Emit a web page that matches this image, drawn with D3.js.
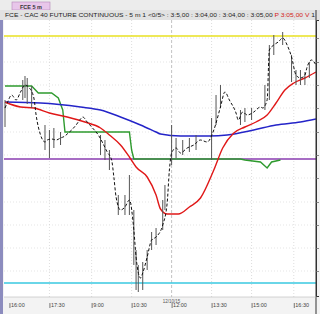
<!DOCTYPE html>
<html>
<head>
<meta charset="utf-8">
<script src="https://cdn.jsdelivr.net/npm/d3@7"></script>
<style>
  body { margin: 0; background: #fff; }
  svg { display: block; font-family: "Liberation Sans", Arial, sans-serif; }
</style>
</head>
<body>
<svg id="chart" width="320" height="314"></svg>
<script>
// bar index (5 min bars) and prices
const closeIdx = [0,1,3,5,7,9,11,13,14,16,18,19,21,23,25,27,28,30,32,34,35,37,39,42,44,46,48,49,50,52,54,56,58,59,61,62,64,66,68,71,73,74,75,77,79,82,85,88,91,94,97,99,101,104,105,107,109,112,115,116,118,119,121,123,125,127,129,131,133,135,136,138,140]
const closeVal = [4656,4658.5,4662.5,4660,4664,4667.5,4666,4661,4652.5,4642.5,4639,4640,4640.5,4640,4641,4642,4643,4645,4647.5,4650.5,4651.5,4649,4646.5,4642.5,4638.5,4634,4630,4621.5,4611.5,4605,4606.5,4610,4595,4581.5,4571,4573.5,4581.5,4590,4591.5,4597.5,4608.5,4625,4633.5,4636,4633.5,4636,4637.5,4640,4639,4645,4656.5,4664,4660,4653.5,4650,4654,4652.5,4654,4656.5,4656,4660,4685,4687.5,4689,4691,4687.5,4681.5,4672.5,4671,4672.5,4676.5,4680,4677.5]

const barIdx  = [0,8,9,10,12,18,20,22,25,43,45,47,51,54,56,58,59,60,62,64,66,68,71,72,75,77,80,83,86,93,95,97,106,108,111,117,119,121,125,129,131,133,135,137]
const barHigh = [4660,4670,4672,4671,4667,4647.5,4645,4646,4644,4642.5,4640,4635,4612.5,4612.5,4622.5,4605,4585,4577.5,4579,4585,4594,4596,4610,4617.5,4647.5,4641,4640,4641,4642.5,4651,4662.5,4667.5,4655,4656,4656,4667.5,4687.5,4692.5,4694,4682.5,4675,4675,4674,4679]
const barLow  = [4646.5,4660,4661,4658,4656,4635,4631,4636,4637.5,4632.5,4630,4625,4602.5,4602.5,4602.5,4577.5,4565,4564,4565,4575,4585,4587.5,4595,4605,4627.5,4631,4632.5,4634,4635,4630,4647.5,4656,4647.5,4649,4650,4655,4660,4682.5,4687.5,4669,4667.5,4667.5,4667.5,4671]

const redIdx = [0,7,13,20,28,36,43,47,52,56,59,64,68,70,73,78,83,88,94,98,103,108,113,118,122,126,130,135,140]
const redVal = [4659,4656.5,4656,4653.5,4651.5,4649,4646,4642.5,4637.5,4631.5,4626.5,4621.5,4612.5,4605.5,4603,4603,4606.5,4611,4625,4636,4643.5,4646.5,4649,4652.5,4658.5,4665,4668.5,4671,4674]

const blueIdx = [0,16,34,43,52,61,68,70,79,92,100,112,122,133,140]
const blueVal = [4659,4658.5,4656.5,4655,4651.5,4647.5,4644,4643,4642,4642,4642.5,4645,4647.5,4649,4650.5]

const greenIdx = [0,10,12,15,21,24,26,27,56,57,58,106,108,115,118,120,124]
const greenVal = [4667,4667,4667,4663.5,4663.5,4661,4655,4644,4644,4635,4630.5,4630.5,4630,4629,4626,4629,4630]

const levels = [
  {price: 4692, color: '#e8e020'},
  {price: 4630.5, color: '#8a3cb0'},
  {price: 4568.5, color: '#38c8e0'}
]
const gridPrices = [4691,4679,4667.5,4656,4644,4632.5,4621,4609,4597.5,4586,4574.5]
const tickIdx = [2,20,39,57,75,93,111,130]
const tickLabels = ['16:00','17:30','9:00','10:30','12:00','13:30','15:00','16:30']
const headerText = 'FCE - CAC 40 FUTURE CONTINUOUS - 5 m  1  <0/5> : 3:5,00 : 3:04,00 : 3:04,00 : 3:05,00 '
const headerRed = 'P  3:05,00 V'

const svg = d3.select('#chart')
const pLeft = 4, pRight = 316, pTop = 20, pBottom = 297

const x = d3.scaleLinear().domain([0, 140]).range([5, 316])
const y = d3.scaleLinear().domain([4562, 4700]).range([296, 20])

// frame
svg.append('rect').attr('width', 320).attr('height', 314).attr('fill', '#f3f3f3')
svg.append('rect').attr('x', 0).attr('y', 0).attr('width', 320).attr('height', 10).attr('fill', '#ececec')
svg.append('rect').attr('x', 12).attr('y', 2).attr('width', 38).attr('height', 8)
  .attr('fill', '#e8c6ea').attr('stroke', '#b486b8').attr('stroke-width', 0.6)
svg.append('text').attr('x', 31).attr('y', 8.5).attr('text-anchor', 'middle')
  .attr('font-size', 5.5).attr('font-weight', 'bold').attr('fill', '#333').text('FCE 5 m')
svg.append('rect').attr('x', 0).attr('y', 10).attr('width', 320).attr('height', 10).attr('fill', '#e2e2e2')
const ht = svg.append('text').attr('x', 5).attr('y', 17).attr('font-size', 5.5).attr('fill', '#222')
  .attr('textLength', 310).attr('lengthAdjust', 'spacingAndGlyphs')
ht.append('tspan').text(headerText)
ht.append('tspan').attr('fill', '#d42020').text(headerRed)
ht.append('tspan').text(' 1')

svg.append('rect').attr('x', pLeft).attr('y', pTop).attr('width', pRight - pLeft).attr('height', pBottom - pTop).attr('fill', '#fff')
svg.append('rect').attr('x', 0).attr('y', 20).attr('width', 3).attr('height', 294).attr('fill', '#8c8cbe')

svg.append('clipPath').attr('id', 'clip').append('rect')
  .attr('x', pLeft).attr('y', pTop).attr('width', pRight - pLeft).attr('height', pBottom - pTop)
const plot = svg.append('g').attr('clip-path', 'url(#clip)')

// grid
plot.append('g').selectAll('line').data(gridPrices).join('line')
  .attr('x1', pLeft).attr('x2', pRight).attr('y1', d => y(d)).attr('y2', d => y(d))
  .attr('stroke', '#d4d4d4').attr('stroke-width', 0.6).attr('stroke-dasharray', '1,2')
plot.append('g').selectAll('line').data(tickIdx.slice(1)).join('line')
  .attr('x1', d => x(d)).attr('x2', d => x(d)).attr('y1', pTop).attr('y2', pBottom)
  .attr('stroke', (d, i) => i === 3 ? '#aaa' : '#cfcfcf').attr('stroke-width', 0.7)
  .attr('stroke-dasharray', (d, i) => i === 3 ? '3,2' : '1,2')

// horizontal levels
plot.append('g').selectAll('line').data(levels).join('line')
  .attr('x1', pLeft).attr('x2', pRight).attr('y1', d => y(d.price)).attr('y2', d => y(d.price))
  .attr('stroke', d => d.color).attr('stroke-width', 1.4)

const line = d3.line().x(d => x(d[0])).y(d => y(d[1]))
const smooth = d3.line().x(d => x(d[0])).y(d => y(d[1])).curve(d3.curveMonotoneX)

plot.append('path').datum(d3.zip(greenIdx, greenVal)).attr('d', line)
  .attr('fill', 'none').attr('stroke', '#2e9a2e').attr('stroke-width', 1.4)
plot.append('path').datum(d3.zip(blueIdx, blueVal)).attr('d', smooth)
  .attr('fill', 'none').attr('stroke', '#2424c8').attr('stroke-width', 1.5)
plot.append('path').datum(d3.zip(redIdx, redVal)).attr('d', smooth)
  .attr('fill', 'none').attr('stroke', '#e01818').attr('stroke-width', 1.4)

// high-low bars
plot.append('g').selectAll('line').data(d3.range(barIdx.length)).join('line')
  .attr('x1', i => x(barIdx[i])).attr('x2', i => x(barIdx[i]))
  .attr('y1', i => y(barHigh[i])).attr('y2', i => y(barLow[i]))
  .attr('stroke', '#555').attr('stroke-width', 1)

plot.append('path').datum(d3.zip(closeIdx, closeVal)).attr('d', smooth)
  .attr('fill', 'none').attr('stroke', '#111').attr('stroke-width', 1)
  .attr('stroke-dasharray', '3,2')

// right axis
svg.append('g').attr('transform', `translate(${pRight},0)`)
  .call(d3.axisRight(y).tickValues(gridPrices).tickSize(3).tickFormat(''))
  .call(g => g.select('.domain').attr('stroke', '#333'))
  .call(g => g.selectAll('.tick line').attr('stroke', '#888'))
svg.append('line').attr('x1', pRight).attr('x2', pRight).attr('y1', 10).attr('y2', 314).attr('stroke', '#333')
svg.append('line').attr('x1', pLeft).attr('x2', pRight).attr('y1', pBottom).attr('y2', pBottom).attr('stroke', '#bbb').attr('stroke-width', 0.6)

// bottom axis
const xa = svg.append('g').attr('transform', `translate(0,${pBottom})`)
  .call(d3.axisBottom(x).tickValues(tickIdx).tickSize(0).tickFormat((d, i) => tickLabels[i]))
xa.select('.domain').remove()
xa.selectAll('.tick').append('line').attr('y1', 6).attr('y2', 11).attr('stroke', '#777')
xa.selectAll('.tick text').attr('text-anchor', 'start').attr('x', 1).attr('y', 6).attr('dy', 0)
  .attr('dominant-baseline', 'hanging')
  .attr('font-size', 5.5).attr('fill', '#444').attr('font-family', '"Liberation Sans", Arial, sans-serif')
svg.append('text').attr('x', x(71)).attr('y', 302.5).attr('font-size', 4.5).attr('fill', '#555').text('12/10/15')
</script>
</body>
</html>
